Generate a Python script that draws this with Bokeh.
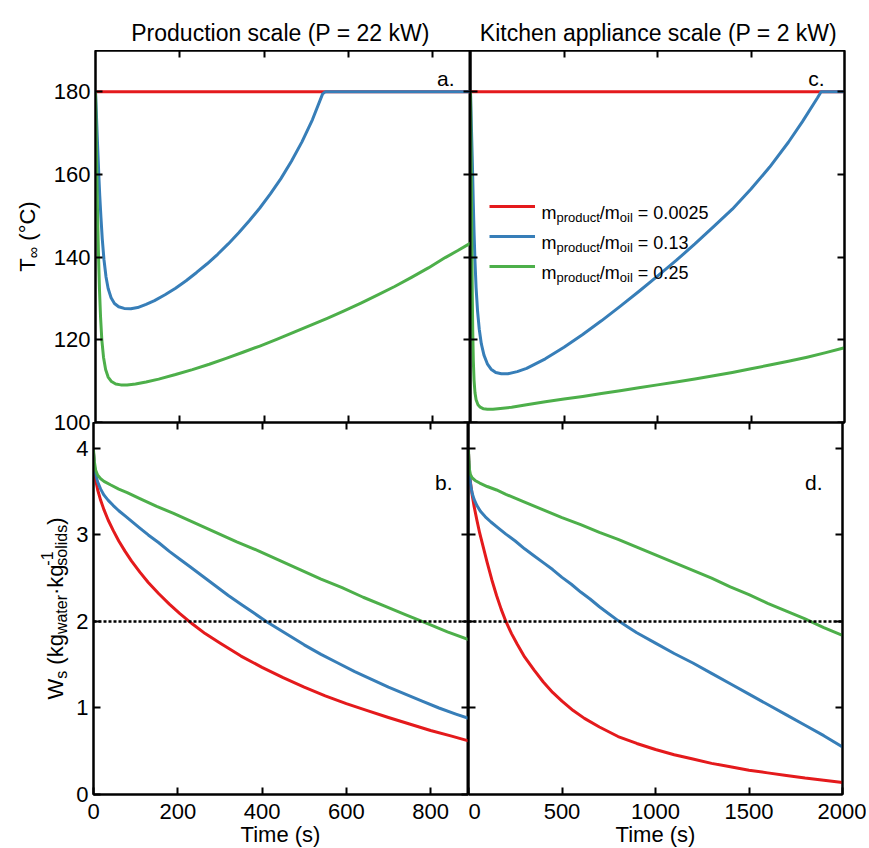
import math
from bokeh.plotting import figure
from bokeh.models import (Range1d, LinearAxis, FixedTicker, Label, Span, Legend,
                          LegendItem, CustomJSTickFormatter)
from bokeh.layouts import column, row
from bokeh.embed import file_html
from bokeh.resources import INLINE

# ---------------- data ----------------
# panel a : production scale (22 kW), oil temperature T_inf (degC) vs time (s)
a_red_t = [0, 890]
a_red_T = [180, 180]
a_blue_t = [0, 2, 4, 6, 8, 10, 13, 16, 20, 25, 30, 37, 45, 55, 68, 84, 100, 120, 140, 165, 190, 215, 240, 265,
            290, 315, 340, 365, 390, 415, 440, 465, 490, 515, 539, 545, 890]
a_blue_T = [180, 175, 169.5, 164.5, 159.5, 155, 149.5, 144.5, 139.5, 135.2, 132.4, 130.2, 128.8, 128, 127.6,
            127.5, 127.8, 128.6, 129.5, 130.9, 132.5, 134.3, 136.3, 138.4, 140.7, 143.2, 145.9, 148.8, 151.9,
            155.3, 159, 163.2, 167.9, 173.3, 179.5, 180, 180]
a_green_t = [0, 1.5, 3, 5, 7, 9.5, 12, 15, 19, 24, 30, 38, 48, 60, 75, 95, 120, 150, 190, 230, 270, 310, 350,
             390, 430, 470, 510, 550, 590, 630, 670, 710, 750, 790, 830, 860, 890]
a_green_T = [180, 171, 161, 150, 141, 132, 125.5, 120, 115.8, 112.8, 111, 109.9, 109.3, 109.1, 109.1, 109.3,
             109.8, 110.5, 111.6, 112.8, 114.1, 115.5, 117, 118.5, 120.1, 121.8, 123.5, 125.2, 127, 128.9,
             130.9, 132.9, 135.1, 137.4, 139.9, 141.6, 143.4]

# panel c : kitchen appliance scale (2 kW), T_inf
c_red_t = [0, 2000]
c_red_T = [180, 180]
c_blue_t = [0, 3, 6, 9, 12, 15, 19, 24, 30, 38, 47, 58, 72, 90, 110, 135, 165, 200, 250, 300, 400, 500, 600,
            700, 800, 900, 1000, 1100, 1200, 1300, 1400, 1500, 1600, 1700, 1775, 1855, 1875, 2000]
c_blue_T = [180, 175, 169.5, 164.5, 159, 153, 146, 139, 132.5, 126.8, 122.5, 119, 116.3, 114.2, 112.9, 112.1,
            111.8, 111.8, 112.3, 113.1, 115.4, 118.2, 121.3, 124.6, 128.1, 131.7, 135.4, 139.2, 143.2, 147.4,
            151.6, 156.5, 161.8, 167.8, 172.8, 178.5, 180, 180]
c_green_t = [0, 1.5, 3, 5, 7, 9.5, 12, 15, 19, 24, 30, 40, 52, 70, 90, 120, 160, 220, 300, 400, 500, 600, 700,
             800, 900, 1000, 1100, 1200, 1300, 1400, 1500, 1600, 1700, 1800, 1900, 2000]
c_green_T = [180, 172, 164, 154, 143, 131, 122, 115, 110.2, 107.2, 105.5, 104.3, 103.7, 103.3, 103.2, 103.2,
             103.4, 103.7, 104.3, 105, 105.7, 106.3, 107, 107.7, 108.4, 109.1, 109.8, 110.5, 111.3, 112.1, 113,
             113.9, 114.8, 115.8, 116.9, 118.1]

# panel b : production scale, moisture content Ws vs time
b_red_t = [0, 2, 5, 10, 17, 25, 35, 47, 60, 75, 90, 110, 130, 155, 180, 205, 235, 265, 300, 350, 400, 450, 500,
           550, 600, 650, 700, 750, 800, 850, 890]
b_red_W = [3.95, 3.78, 3.64, 3.52, 3.4, 3.29, 3.17, 3.05, 2.93, 2.81, 2.7, 2.57, 2.45, 2.32, 2.2, 2.09, 1.97,
           1.86, 1.75, 1.6, 1.47, 1.35, 1.24, 1.14, 1.05, 0.97, 0.89, 0.815, 0.74, 0.675, 0.62]
b_blue_t = [0, 2, 5, 10, 17, 25, 35, 47, 60, 75, 90, 110, 130, 155, 180, 205, 230, 260, 290, 320, 350, 380, 410,
            440, 470, 500, 540, 580, 620, 660, 700, 740, 780, 820, 860, 890]
b_blue_W = [3.95, 3.8, 3.7, 3.61, 3.53, 3.46, 3.4, 3.34, 3.28, 3.22, 3.16, 3.08, 3.0, 2.91, 2.81, 2.72, 2.63,
            2.52, 2.41, 2.3, 2.2, 2.1, 2.0, 1.91, 1.82, 1.73, 1.62, 1.52, 1.42, 1.33, 1.24, 1.16, 1.08, 1.0,
            0.93, 0.88]
b_green_t = [0, 2, 5, 10, 17, 25, 40, 60, 80, 110, 150, 190, 240, 290, 340, 390, 440, 490, 540, 590, 640, 690,
             740, 790, 840, 890]
b_green_W = [3.98, 3.85, 3.75, 3.69, 3.65, 3.62, 3.58, 3.53, 3.49, 3.42, 3.33, 3.25, 3.14, 3.03, 2.92, 2.82,
             2.71, 2.6, 2.49, 2.39, 2.28, 2.18, 2.08, 1.98, 1.88, 1.79]

# panel d : kitchen appliance scale, Ws
d_red_t = [0, 3, 7, 12, 20, 30, 45, 60, 80, 100, 125, 150, 175, 200, 230, 260, 300, 350, 400, 450, 500, 560,
           620, 700, 800, 900, 1000, 1100, 1200, 1300, 1400, 1500, 1600, 1700, 1800, 1900, 2000]
d_red_W = [3.95, 3.8, 3.68, 3.58, 3.46, 3.33, 3.17, 3.02, 2.85, 2.68, 2.48, 2.3, 2.14, 2.0, 1.86, 1.74, 1.59,
           1.44, 1.3, 1.18, 1.08, 0.97, 0.88, 0.78, 0.67, 0.59, 0.52, 0.46, 0.41, 0.36, 0.32, 0.28, 0.25, 0.22,
           0.19, 0.165, 0.14]
d_blue_t = [0, 3, 7, 12, 20, 30, 45, 65, 90, 120, 160, 200, 250, 300, 350, 400, 450, 500, 550, 600, 650, 700,
            750, 800, 850, 900, 1000, 1100, 1200, 1300, 1400, 1500, 1600, 1700, 1800, 1900, 2000]
d_blue_W = [3.95, 3.78, 3.66, 3.57, 3.48, 3.41, 3.34, 3.27, 3.21, 3.15, 3.08, 3.01, 2.93, 2.84, 2.76, 2.68,
            2.6, 2.51, 2.43, 2.34, 2.26, 2.17, 2.09, 2.01, 1.94, 1.87, 1.75, 1.63, 1.52, 1.4, 1.28, 1.16, 1.04,
            0.92, 0.8, 0.68, 0.55]
d_green_t = [0, 2, 5, 10, 20, 35, 60, 100, 150, 200, 300, 400, 500, 600, 700, 800, 900, 1000, 1100, 1200, 1300,
             1400, 1500, 1600, 1700, 1800, 1900, 2000]
d_green_W = [3.98, 3.85, 3.76, 3.7, 3.66, 3.63, 3.6, 3.56, 3.52, 3.47, 3.38, 3.29, 3.2, 3.12, 3.03, 2.95, 2.86,
             2.77, 2.68, 2.59, 2.5, 2.4, 2.31, 2.21, 2.12, 2.03, 1.93, 1.84]

ratios = ["0.0025", "0.13", "0.25"]
target_W = 2.0

T_ticks = [100, 120, 140, 160, 180]
W_ticks = [0, 1, 2, 3, 4]
prod_ticks = [0, 200, 400, 600, 800]
kit_ticks = [0, 500, 1000, 1500, 2000]

# ---------------- style / geometry ----------------
FONT = "Liberation Sans"
RED, BLUE, GREEN = "#e41a1c", "#377eb8", "#4daf4a"
LW = 3

TOP_H = 50          # title strip height
LS_TOP = 50         # left label strip width, top row
LS_BOT = 70         # left label strip width, bottom row
FW_L, FW_R, FH = 375, 374, 372
RB = 24             # right border
OVL = 12            # overlap of the two rows (room for the "100" tick label)
BB = 52             # bottom border (x tick labels)
BOT_OVL = 28        # overlap of the x-label strip with the bottom border
BOT_H = 29          # x-label strip height
TOTAL_W = 93 + FW_L + FW_R + RB
BOT_TOP = 794 + BB - BOT_OVL   # page y of the x-label strip

# frame geometry in page px (left, top)
GEO = {
    "a": dict(L=93, T=50, W=FW_L, H=FH, x=(0, 890), y=(100, 190)),
    "c": dict(L=468, T=50, W=FW_R, H=FH, x=(0, 2000), y=(100, 190)),
    "b": dict(L=93, T=422, W=FW_L, H=FH, x=(0, 890), y=(0, 4.3)),
    "d": dict(L=468, T=422, W=FW_R, H=FH, x=(0, 2000), y=(0, 4.3)),
}

AW = {' ': 278, '(': 333, ')': 333, '/': 278, '.': 278, '=': 584, '°': 400, '∞': 713, '·': 278, '-': 333,
      'C': 722, 'P': 667, 'T': 611, 'W': 944, 'K': 667,
      'a': 556, 'b': 556, 'c': 500, 'd': 556, 'e': 556, 'g': 556, 'i': 222, 'k': 500, 'l': 222, 'm': 833,
      'n': 556, 'o': 556, 'p': 556, 'r': 333, 's': 500, 't': 278, 'u': 556, 'w': 722}


def twidth(s, size):
    return sum(AW.get(ch, 556) for ch in s) / 1000.0 * size


def frame_conv(g):
    def conv(X, Y):
        x0, x1 = g["x"]
        y0, y1 = g["y"]
        return (x0 + (X - g["L"]) / g["W"] * (x1 - x0), y1 - (Y - g["T"]) / g["H"] * (y1 - y0))
    return conv


def strip_conv(ox, oy):
    return lambda X, Y: (X - ox, Y - oy)


def put(p, conv, X, Y, text, size, align="left", angle=0.0):
    x, y = conv(X, Y)
    p.add_layout(Label(x=x, y=y, text=text, text_font=FONT, text_font_size=f"{size}px",
                       text_color="black", text_align=align, text_baseline="alphabetic",
                       angle=angle, angle_units="rad"))


def rich(p, conv, X, Y, pieces, vertical=False):
    pos = 0.0
    for txt, size, shift, adv in pieces:
        lead = len(txt) - len(txt.lstrip(" "))
        pos += twidth(" " * lead, size)
        body = txt.lstrip(" ")
        if vertical:
            put(p, conv, X + shift, Y - pos, body, size, angle=math.pi / 2)
        else:
            put(p, conv, X + pos, Y + shift, body, size)
        if adv:
            pos += twidth(body, size)


def rich_len(pieces):
    return sum(twidth(t, s) for t, s, _, adv in pieces if adv)


def make_fig(g, bl, br, bt, bb, transparent=False):
    p = figure(x_range=Range1d(*g["x"]), y_range=Range1d(*g["y"]),
               frame_width=g["W"], frame_height=g["H"],
               x_axis_type=None, y_axis_type=None, toolbar_location=None, output_backend="svg",
               min_border_left=bl, min_border_right=br, min_border_top=bt, min_border_bottom=bb,
               outline_line_color="black", outline_line_width=2,
               background_fill_color="white", border_fill_color="white")
    if transparent:
        p.border_fill_alpha = 0
    return p


def make_strip(w, h, transparent=False):
    p = figure(x_range=Range1d(0, w), y_range=Range1d(h, 0), frame_width=w, frame_height=h,
               x_axis_type=None, y_axis_type=None, toolbar_location=None, output_backend="svg",
               min_border=0, outline_line_color=None,
               background_fill_color="white", border_fill_color="white")
    if transparent:
        p.background_fill_alpha = 0
        p.border_fill_alpha = 0
    return p


def axis(p, side, ticks, labels=False, tin=7):
    ax = LinearAxis(ticker=FixedTicker(ticks=ticks), major_tick_in=tin, major_tick_out=0,
                    minor_tick_in=0, minor_tick_out=0, axis_line_width=2, axis_line_color="black",
                    major_tick_line_width=2, major_tick_line_color="black")
    if labels:
        ax.major_label_text_font = FONT
        ax.major_label_text_font_size = "22px"
        ax.major_label_text_color = "black"
        ax.major_label_standoff = 5
    else:
        ax.formatter = CustomJSTickFormatter(code="return ''")
        ax.major_label_text_font_size = "0px"
        ax.major_label_standoff = 0
    p.add_layout(ax, side)
    return ax


# ---------------- figures ----------------
pa = make_fig(GEO["a"], 93 - LS_TOP, 0, 0, OVL)
pc = make_fig(GEO["c"], 0, RB, 0, OVL)
pb = make_fig(GEO["b"], 93 - LS_BOT, 0, 0, BB, transparent=True)
pd = make_fig(GEO["d"], 0, RB, 0, BB, transparent=True)

axis(pa, "left", T_ticks, labels=True)
axis(pa, "right", T_ticks)
axis(pa, "above", prod_ticks[1:])
axis(pa, "below", prod_ticks[1:])

axis(pc, "left", T_ticks)
axis(pc, "right", T_ticks)
axis(pc, "above", kit_ticks[1:-1])
axis(pc, "below", kit_ticks[1:-1])

axis(pb, "left", W_ticks, labels=True)
axis(pb, "right", W_ticks)
axis(pb, "above", prod_ticks[1:])
xb = axis(pb, "below", prod_ticks, labels=True)

axis(pd, "left", W_ticks[1:])
axis(pd, "right", W_ticks[1:])
axis(pd, "above", kit_ticks[1:-1])
xd = axis(pd, "below", kit_ticks, labels=True)

for ax in (xb, xd):
    ax.major_label_standoff = 9

for p in (pb, pd):
    p.add_layout(Span(location=target_W, dimension="width", line_color="black",
                      line_width=2.5, line_dash="3 2"))

pa.line(a_red_t, a_red_T, line_color=RED, line_width=LW)
pa.line(a_blue_t, a_blue_T, line_color=BLUE, line_width=LW, line_join="round")
pa.line(a_green_t, a_green_T, line_color=GREEN, line_width=LW, line_join="round")

rc_red = pc.line(c_red_t, c_red_T, line_color=RED, line_width=LW)
rc_blue = pc.line(c_blue_t, c_blue_T, line_color=BLUE, line_width=LW, line_join="round")
rc_green = pc.line(c_green_t, c_green_T, line_color=GREEN, line_width=LW, line_join="round")

pb.line(b_red_t, b_red_W, line_color=RED, line_width=LW, line_join="round")
pb.line(b_blue_t, b_blue_W, line_color=BLUE, line_width=LW, line_join="round")
pb.line(b_green_t, b_green_W, line_color=GREEN, line_width=LW, line_join="round")

pd.line(d_red_t, d_red_W, line_color=RED, line_width=LW, line_join="round")
pd.line(d_blue_t, d_blue_W, line_color=BLUE, line_width=LW, line_join="round")
pd.line(d_green_t, d_green_W, line_color=GREEN, line_width=LW, line_join="round")

# legend keys (library legend), legend text drawn beside it with sub-scripts
leg = Legend(items=[LegendItem(label=" ", renderers=[r]) for r in (rc_red, rc_blue, rc_green)],
             location=(19, 146), orientation="vertical", glyph_width=46, glyph_height=20,
             label_width=0, label_height=0, label_standoff=0, label_text_font_size="1px",
             spacing=10, padding=0, margin=0, border_line_alpha=0, background_fill_alpha=0)
pc.add_layout(leg)
cc = frame_conv(GEO["c"])
for i, r in enumerate(ratios):
    rich(pc, cc, 539, 212 + 30 * i,
         [("m", 18, 0, True), ("product", 13, 5, True), ("/m", 18, 0, True), ("oil", 13, 5, True),
          (" = " + r, 18, 0, True)])

# panel letters
put(pa, frame_conv(GEO["a"]), 452, 78, "a.", 21, align="right")
put(pc, cc, 822, 78, "c.", 21, align="right")
put(pb, frame_conv(GEO["b"]), 452, 482, "b.", 21, align="right")
put(pd, frame_conv(GEO["d"]), 822, 482, "d.", 21, align="right")

# title strip
top = make_strip(TOTAL_W, TOP_H)
tc = strip_conv(0, 0)
put(top, tc, 280, 32, "Production scale (P = 22 kW)", 23, align="center")
put(top, tc, 658, 32, "Kitchen appliance scale (P = 2 kW)", 23, align="center")

# y-label strips
lt = make_strip(LS_TOP, FH)
t_pieces = [("T", 22, 0, True), ("∞", 16, 6, True), (" (°C)", 22, 0, True)]
rich(lt, strip_conv(0, 50), 27, 236 + rich_len(t_pieces) / 2, t_pieces, vertical=True)

lb = make_strip(LS_BOT, FH, transparent=True)
w_pieces = [("W", 22, 0, True), ("s", 16, 6, True), (" (kg", 22, 0, True), ("water", 16, 6, True),
            ("·kg", 22, 0, True), ("-1", 16, -9, False), ("solids", 16, 6, True), (")", 22, 0, True)]
rich(lb, strip_conv(0, 422), 55, 608 + rich_len(w_pieces) / 2, w_pieces, vertical=True)

# x-label strip
bot = make_strip(TOTAL_W, BOT_H, transparent=True)
bc = strip_conv(0, BOT_TOP)
put(bot, bc, 280, 834, "Time (s)", 22, align="center")
put(bot, bc, 655, 834, "Time (s)", 22, align="center")

row_top = row(lt, pa, pc)
row_bot = row(lb, pb, pd)
row_bot.margin = (-OVL, 0, 0, 0)
bot.margin = (-BOT_OVL, 0, 0, 0)
layout = column(top, row_top, row_bot, bot)
open("out.html", "w").write(file_html(layout, INLINE))
